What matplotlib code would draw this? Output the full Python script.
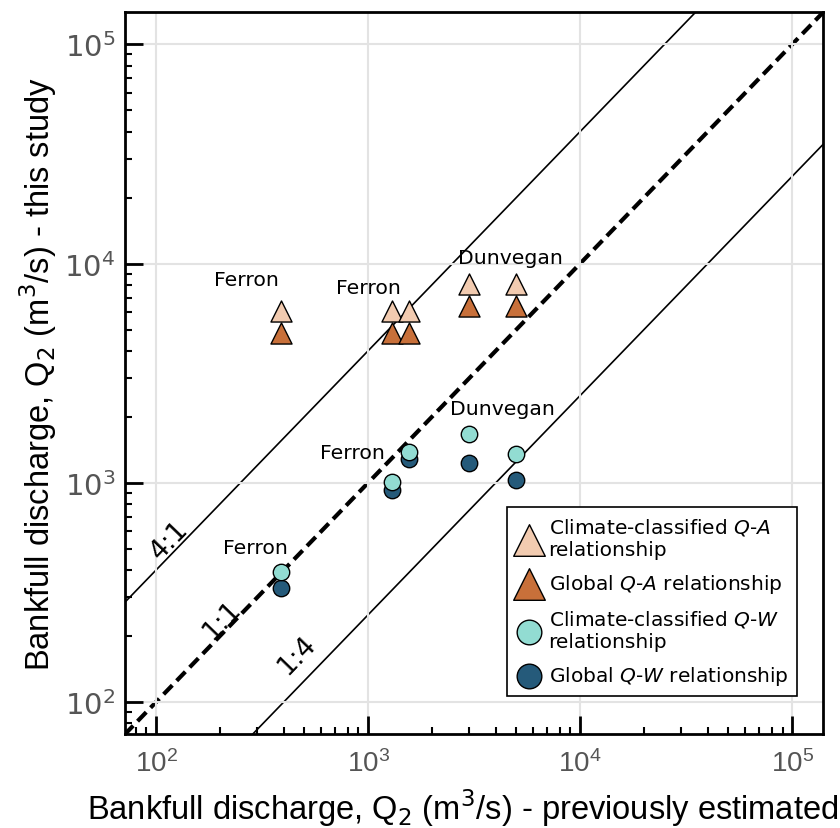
import matplotlib.pyplot as plt
import numpy as np
from matplotlib.ticker import LogLocator, FuncFormatter, NullFormatter

plt.rcParams['font.family'] = 'DejaVu Sans'
plt.rcParams['mathtext.fontset'] = 'dejavusans'

# previously estimated discharge (x) and this-study discharge (y)
q_prev = [390, 1300, 1560, 3000, 5000]
qa_climate = [6100, 6100, 6100, 8100, 8100]
qa_global = [4800, 4800, 4800, 6400, 6400]
qw_climate = [390, 1010, 1380, 1670, 1360]
qw_global = [333, 930, 1285, 1235, 1035]

# annotation labels: (text, x, y)
labels = [("Ferron", 266, 8450), ("Ferron", 1000, 7800), ("Dunvegan", 4700, 10650),
          ("Ferron", 840, 1370), ("Dunvegan", 4290, 2190), ("Ferron", 293, 506)]

lim = (71.5, 140000)

fig = plt.figure(figsize=(8.4, 8.29), dpi=100)
ax = fig.add_axes([0.149, 0.1134, 0.831, 0.8706])
ax.set_xscale('log')
ax.set_yscale('log')
ax.set_xlim(lim)
ax.set_ylim(lim)
ax.grid(True, which='major', color='#e3e3e3', lw=1.5, zorder=0)

xx = np.array([10, 1e6])
ax.plot(xx, 4 * xx, color='k', lw=1.2, zorder=1)
ax.plot(xx, xx / 4, color='k', lw=1.2, zorder=1)
ax.plot(xx, xx, color='k', lw=3, ls=(0, (3, 1.5)), zorder=1)

ax.text(116, 551, "4:1", rotation=46, fontsize=19, ha='center', va='center')
ax.text(205, 236, "1:1", rotation=46, fontsize=19, ha='center', va='center')
ax.text(463, 165, "1:4", rotation=46, fontsize=19, ha='center', va='center')

ax.scatter(q_prev, qa_climate, marker='^', s=230, c='#f2cbb0', edgecolors='k', lw=1, zorder=3,
           label="Climate-classified $\\mathit{Q}$-$\\mathit{A}$\nrelationship")
ax.scatter(q_prev, qa_global, marker='^', s=230, c='#c8703a', edgecolors='k', lw=1, zorder=3,
           label="Global $\\mathit{Q}$-$\\mathit{A}$ relationship")
ax.scatter(q_prev, qw_climate, marker='o', s=140, c='#92dcd2', edgecolors='k', lw=1, zorder=4,
           label="Climate-classified $\\mathit{Q}$-$\\mathit{W}$\nrelationship")
ax.scatter(q_prev, qw_global, marker='o', s=140, c='#255a7a', edgecolors='k', lw=1, zorder=3,
           label="Global $\\mathit{Q}$-$\\mathit{W}$ relationship")

for t, x, y in labels:
    ax.text(x, y, t, fontsize=14.7, ha='center', va='center')

leg = ax.legend(loc='lower right', fontsize=14.5, markerscale=1.5, frameon=True, fancybox=False,
                edgecolor='k', framealpha=1, borderpad=0.45, handletextpad=0.3, labelspacing=0.65,
                bbox_to_anchor=(0.963, 0.052), handlelength=1.3, borderaxespad=0)
leg.get_frame().set_linewidth(1.2)

for s in ax.spines.values():
    s.set_linewidth(2)

fmt = FuncFormatter(lambda v, p: "$\\mathregular{10^{%d}}$" % round(np.log10(v)))
for axis in (ax.xaxis, ax.yaxis):
    axis.set_major_locator(LogLocator(base=10, numticks=10))
    axis.set_minor_locator(LogLocator(base=10, subs=np.arange(2, 10), numticks=10))
    axis.set_major_formatter(fmt)
    axis.set_minor_formatter(NullFormatter())
ax.tick_params(which='major', direction='in', length=13, width=2, labelsize=20,
               labelcolor='#555555')
ax.tick_params(axis='x', which='major', pad=11)
ax.tick_params(axis='y', which='major', pad=7, labelsize=21)
ax.tick_params(which='minor', direction='in', length=5, width=1.5)
for lab in ax.get_xticklabels():
    lab.set_family('Liberation Sans')

ax.set_xlabel("Bankfull discharge, Q$_2$ (m$^3$/s) - previously estimated",
              fontsize=23.5, family='Liberation Sans', labelpad=2)
ax.set_ylabel("Bankfull discharge, Q$_2$ (m$^3$/s) - this study",
              fontsize=23.5, family='Liberation Sans', labelpad=4)
ax.xaxis.set_label_coords(0.484, -0.072)

fig.savefig("out.png", dpi=100)
